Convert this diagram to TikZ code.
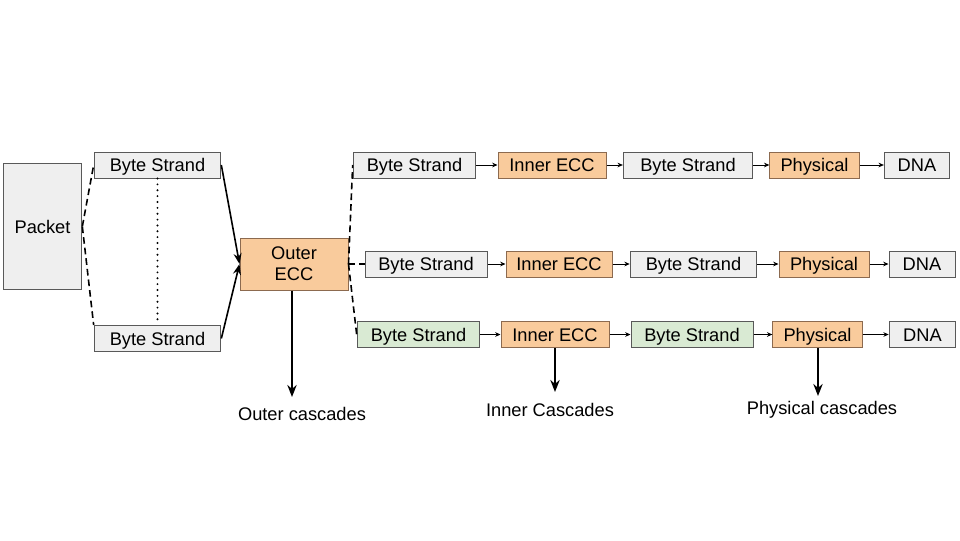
\documentclass[tikz,border=0pt]{standalone}
\usepackage{fontspec}
\setmainfont{Liberation Sans}
\usepackage{xcolor}
\usetikzlibrary{positioning,arrows.meta}

\definecolor{boxgray}{HTML}{EFEFEF}
\definecolor{boxorange}{HTML}{F9CB9C}
\definecolor{boxgreen}{HTML}{D9EAD3}
\definecolor{edgegray}{HTML}{595959}
\definecolor{edgeorange}{HTML}{8C6A4F}

\tikzset{
  strand/.style={draw=edgegray, fill=boxgray, line width=0.75pt, inner sep=0pt,
    minimum height=19.5pt, text height=11.3pt, text depth=1pt,
    font=\fontsize{13.7pt}{16pt}\selectfont},
  greenstrand/.style={strand, fill=boxgreen},
  ecc/.style={strand, draw=edgeorange, fill=boxorange},
  flow/.style={-{Stealth[length=4pt,width=3.5pt]}, line width=0.6pt},
  cascade/.style={-{Stealth[length=9pt,width=7pt]}, line width=1.5pt},
  split/.style={dash pattern=on 5pt off 3pt, line width=1.2pt},
  caption/.style={font=\fontsize{13.7pt}{16pt}\selectfont, inner sep=0pt}
}

\begin{document}
\begin{tikzpicture}[x=0.75pt, y=-0.75pt]
    \useasboundingbox (0,0) rectangle (960,540);

    % left part
    \node [strand, minimum width=59pt, minimum height=95pt, text height=, text depth=] (packet) at (42.5, 226.5) {Packet};
    \node [strand, minimum width=95pt] (bsA) at (157.5, 165) {Byte Strand};
    \node [strand, minimum width=95pt] (bsB) at (157.5, 338.5) {Byte Strand};
    \node [ecc, minimum width=81pt, minimum height=39pt, align=center, text height=, text depth=] (outer) at (294, 264) {Outer\\ECC};

    % row 1
    \node [strand, minimum width=92pt] (r1bs1) at (414.5, 165) {Byte Strand};
    \node [ecc, minimum width=81pt] (r1ecc) at (552, 165) {Inner ECC};
    \node [strand, minimum width=97pt] (r1bs2) at (688, 165) {Byte Strand};
    \node [ecc, minimum width=67pt] (r1phy) at (814.5, 165) {Physical};
    \node [strand, minimum width=49pt] (r1dna) at (917, 165) {DNA};

    % row 2
    \node [strand, minimum width=91.5pt] (r2bs1) at (426, 264) {Byte Strand};
    \node [ecc, minimum width=79.5pt] (r2ecc) at (559, 264) {Inner ECC};
    \node [strand, minimum width=95pt] (r2bs2) at (693.5, 264) {Byte Strand};
    \node [ecc, minimum width=67.5pt] (r2phy) at (824, 264) {Physical};
    \node [strand, minimum width=49.5pt] (r2dna) at (922, 264) {DNA};

    % row 3
    \node [greenstrand, minimum width=92pt] (r3bs1) at (418.5, 334.5) {Byte Strand};
    \node [ecc, minimum width=81pt] (r3ecc) at (555, 334.5) {Inner ECC};
    \node [greenstrand, minimum width=91.5pt] (r3bs2) at (692, 334.5) {Byte Strand};
    \node [ecc, minimum width=67pt] (r3phy) at (817.5, 334.5) {Physical};
    \node [strand, minimum width=50pt] (r3dna) at (922.5, 334.5) {DNA};

    % cascades
    \node [caption] (outcas) at (302, 414) {Outer cascades};
    \node [caption] (incas) at (550, 410) {Inner Cascades};
    \node [caption] (phycas) at (822, 410) {Physical cascades};
    \coordinate (outtip) at (292, 397);
    \coordinate (intip) at (555, 392);
    \coordinate (phytip) at (818, 396);

    \draw [split] (packet.east) to (bsA.west);
    \draw [split] (packet.east) to (bsB.north west);
    \draw [line width=1.6pt, line cap=round, dash pattern=on 0pt off 4.4pt] (bsA.south) to (bsB.north);
    \draw [line width=1.2pt, -{Stealth[length=8pt,width=6pt]}] (bsA.east) to (outer.west);
    \draw [line width=1.2pt, -{Stealth[length=8pt,width=6pt]}] (bsB.east) to (outer.west);

    \draw [split] (outer.east) to (r1bs1.west);
    \draw [split] (outer.east) to (r2bs1.west);
    \draw [split] (outer.east) to (r3bs1.west);

    \draw [flow] (r1bs1) to (r1ecc);
    \draw [flow] (r1ecc) to (r1bs2);
    \draw [flow] (r1bs2) to (r1phy);
    \draw [flow] (r1phy) to (r1dna);

    \draw [flow] (r2bs1) to (r2ecc);
    \draw [flow] (r2ecc) to (r2bs2);
    \draw [flow] (r2bs2) to (r2phy);
    \draw [flow] (r2phy) to (r2dna);

    \draw [flow] (r3bs1) to (r3ecc);
    \draw [flow] (r3ecc) to (r3bs2);
    \draw [flow] (r3bs2) to (r3phy);
    \draw [flow] (r3phy) to (r3dna);

    \draw [cascade] (outer.south -| outtip) to (outtip);
    \draw [cascade] (r3ecc.south -| intip) to (intip);
    \draw [cascade] (r3phy.south -| phytip) to (phytip);
  \end{tikzpicture}
\end{document}
